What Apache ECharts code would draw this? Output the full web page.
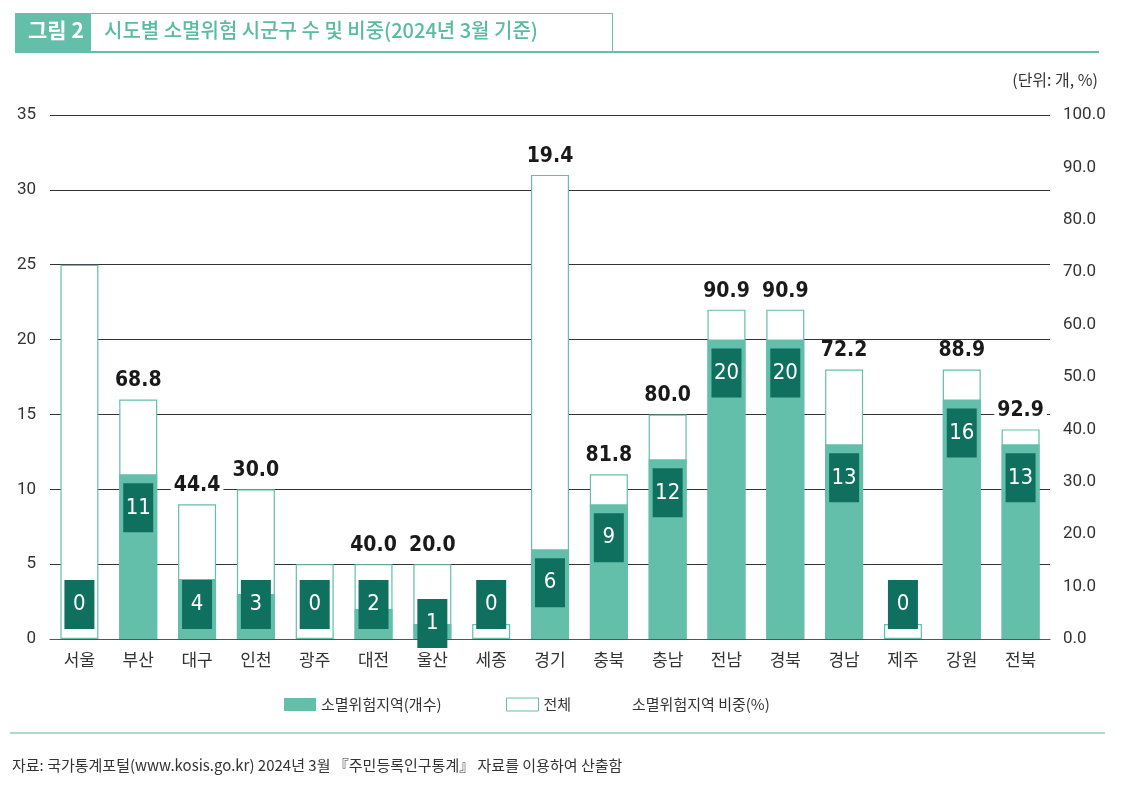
<!DOCTYPE html>
<html>
<head>
<meta charset="utf-8">
<script src="https://cdn.jsdelivr.net/npm/echarts@6/dist/echarts.min.js"></script>
<style>
  html, body { margin: 0; padding: 0; background: #fff; }
  #chart { width: 1129px; height: 787px; }
</style>
</head>
<body>
<div id="chart"></div>
<script>
// 시도별 소멸위험 시군구 수 및 비중 (2024년 3월 기준)
var regions = ['서울', '부산', '대구', '인천', '광주', '대전', '울산', '세종', '경기', '충북', '충남', '전남', '경북', '경남', '제주', '강원', '전북'];
var riskCount = [0, 11, 4, 3, 0, 2, 1, 0, 6, 9, 12, 20, 20, 13, 0, 16, 13];
var totalCount = [25, 16, 9, 10, 5, 5, 5, 1, 31, 11, 15, 22, 22, 18, 1, 18, 14];
var riskShare = [null, 68.8, 44.4, 30.0, null, 40.0, 20.0, null, 19.4, 81.8, 80.0, 90.9, 90.9, 72.2, null, 88.9, 92.9];

var TEAL = '#63bfa9';
var DARK = '#0f7060';
var KR = '"Noto Sans CJK KR", "Noto Sans", sans-serif';
var NARROW = '"DejaVu Sans Condensed", "Roboto Condensed", "Liberation Sans Narrow", Roboto, sans-serif';

var chart = echarts.init(document.getElementById('chart'));

var boxLabel = {
    show: true,
    position: 'insideTop',
    distance: 9,
    width: 30,
    height: 49,
    lineHeight: 49,
    align: 'center',
    backgroundColor: DARK,
    color: '#fff',
    fontFamily: NARROW,
    fontSize: 22,
    formatter: '{c}'
};

var riskData = riskCount.map(function (v) {
    if (v === 1) {
        return { value: v, label: { position: 'top', distance: -24 } };
    }
    if (v <= 4) {
        return { value: v, label: { position: 'insideBottom', distance: 10 } };
    }
    return v;
});

var totalData = totalCount.map(function (v, i) {
    return { value: v, label: { show: riskShare[i] !== null } };
});

var legendText = { fontSize: 15, color: '#333', fontFamily: KR };

var option = {
    animation: false,
    textStyle: { fontFamily: KR },
    grid: { left: 50, right: 79, top: 115, bottom: 148 },
    legend: [
        {
            data: [{ name: '소멸위험지역(개수)', icon: 'rect' }],
            left: 279, top: 692, itemWidth: 32, itemHeight: 13,
            textStyle: legendText
        },
        {
            data: [{ name: '전체', icon: 'rect', itemStyle: { color: '#fff', borderColor: TEAL, borderWidth: 1 } }],
            left: 501, top: 692, itemWidth: 32, itemHeight: 13,
            textStyle: legendText
        },
        {
            data: [{ name: '소멸위험지역 비중(%)', icon: 'none' }],
            left: 622, top: 692, itemWidth: 0, itemHeight: 13,
            textStyle: legendText
        }
    ],
    xAxis: {
        type: 'category',
        data: regions,
        axisTick: { show: false },
        axisLine: { lineStyle: { color: '#555', width: 1 } },
        axisLabel: { color: '#333', fontSize: 17, margin: 12, fontFamily: KR }
    },
    yAxis: [
        {
            type: 'value', min: 0, max: 35, interval: 5,
            axisLine: { show: false }, axisTick: { show: false },
            axisLabel: { color: '#333', fontSize: 17, margin: 14, fontFamily: 'Roboto, sans-serif' },
            splitLine: { lineStyle: { color: '#333', width: 1 } }
        },
        {
            type: 'value', min: 0, max: 100, interval: 10,
            axisLine: { show: false }, axisTick: { show: false },
            splitLine: { show: false },
            axisLabel: {
                color: '#333', fontSize: 17, margin: 13, fontFamily: 'Roboto, sans-serif',
                formatter: function (v) { return v.toFixed(1); }
            }
        }
    ],
    series: [
        {
            name: '전체',
            type: 'bar',
            barWidth: 38,
            barGap: '-100%',
            data: totalData,
            itemStyle: { color: '#fff', borderColor: TEAL, borderWidth: 1.2 },
            label: {
                show: true,
                position: 'top',
                distance: 8,
                color: '#1a1a1a',
                fontFamily: NARROW,
                fontWeight: 'bold',
                fontSize: 21,
                backgroundColor: '#fff',
                padding: [0, 3],
                formatter: function (p) {
                    var s = riskShare[p.dataIndex];
                    return s === null ? '' : s.toFixed(1);
                }
            },
            z: 2
        },
        {
            name: '소멸위험지역(개수)',
            type: 'bar',
            barWidth: 38,
            data: riskData,
            itemStyle: { color: TEAL },
            label: boxLabel,
            z: 3
        },
        {
            name: '소멸위험지역 비중(%)',
            type: 'line',
            yAxisIndex: 1,
            data: riskShare,
            showSymbol: false,
            symbol: 'none',
            lineStyle: { opacity: 0 },
            itemStyle: { color: 'transparent' },
            silent: true
        }
    ],
    graphic: [
        { type: 'rect', shape: { x: 15, y: 13, width: 75, height: 39 }, style: { fill: TEAL } },
        { type: 'rect', shape: { x: 90.5, y: 13.5, width: 522, height: 38 }, style: { fill: 'none', stroke: TEAL, lineWidth: 1 } },
        { type: 'line', shape: { x1: 15, y1: 52, x2: 1099, y2: 52 }, style: { stroke: TEAL, lineWidth: 2 } },
        { type: 'text', x: 28, y: 20, style: { text: '그림 2', fill: '#fff', font: 'bold 21px ' + KR } },
        { type: 'text', x: 104, y: 20, style: { text: '시도별 소멸위험 시군구 수 및 비중(2024년 3월 기준)', fill: '#58bba2', font: '500 20px ' + KR } },
        { type: 'text', right: 31, y: 72, style: { text: '(단위: 개, %)', fill: '#333', font: '16px ' + KR } },
        { type: 'line', shape: { x1: 10, y1: 733, x2: 1105, y2: 733 }, style: { stroke: '#8fcfbf', lineWidth: 1.5 } },
        { type: 'text', x: 12, y: 758, style: { text: '자료: 국가통계포털(www.kosis.go.kr) 2024년 3월 『주민등록인구통계』 자료를 이용하여 산출함', fill: '#333', font: '15px ' + KR } }
    ]
};

chart.setOption(option);
</script>
</body>
</html>
